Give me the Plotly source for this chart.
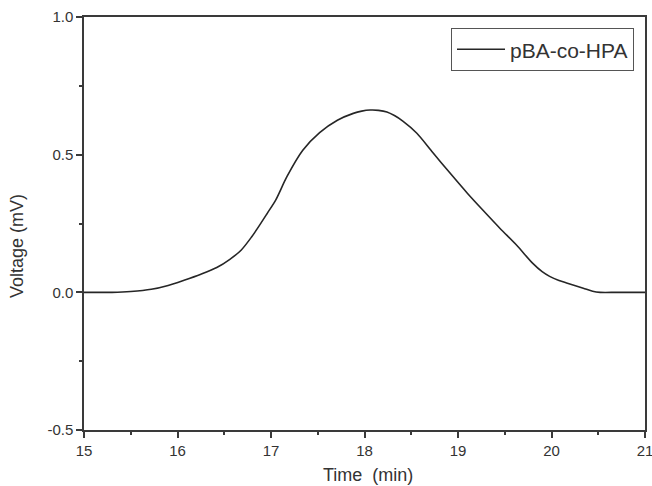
import plotly.graph_objects as go

time_min = [15.0, 15.3, 15.5, 15.72, 15.9, 16.07, 16.25, 16.42, 16.56, 16.68, 16.79, 16.88, 16.96,
            17.05, 17.17, 17.34, 17.52, 17.71, 17.88, 17.97, 18.06, 18.15, 18.24, 18.32, 18.41,
            18.56, 18.73, 18.91, 19.1, 19.27, 19.45, 19.63, 19.8, 19.9, 19.98, 20.08, 20.17,
            20.34, 20.44, 20.52, 20.7, 21.0]
voltage_mv = [0.0, 0.0, 0.003, 0.011, 0.025, 0.044, 0.066, 0.09, 0.12, 0.153, 0.2, 0.245, 0.287,
              0.335, 0.42, 0.516, 0.58, 0.625, 0.65, 0.658, 0.662, 0.661, 0.655, 0.642, 0.622,
              0.578, 0.508, 0.435, 0.36, 0.297, 0.232, 0.17, 0.105, 0.075, 0.058, 0.043, 0.033,
              0.015, 0.004, 0.0, 0.0, 0.0]
series_name = "pBA-co-HPA"
x_ticks = [15, 16, 17, 18, 19, 20, 21]
y_ticks = [-0.5, 0.0, 0.5, 1.0]
x_title = "Time\u00a0 (min)"
y_title = "Voltage (mV)"

fig = go.Figure()
fig.add_trace(go.Scatter(x=time_min, y=voltage_mv, mode="lines", name=series_name,
                         line=dict(color="#262626", width=1.6, shape="spline", smoothing=0.8)))

axis_common = dict(showline=True, linecolor="#3a3a3a", linewidth=1.5, mirror=True,
                   showgrid=False, zeroline=False, ticks="outside", ticklen=6, tickwidth=1.5,
                   tickcolor="#3a3a3a", tickfont=dict(size=15, color="#333333"),
                   automargin=False, ticklabeloverflow="allow")

fig.update_xaxes(range=[15, 21], tickvals=x_ticks, ticktext=[str(v) for v in x_ticks],
                 minor=dict(ticks="outside", ticklen=3, tickwidth=1.5, tickcolor="#3a3a3a", dtick=0.5),
                 **axis_common)
fig.update_yaxes(range=[-0.5, 1.0], tickvals=y_ticks, ticktext=[f"{v:.1f}" for v in y_ticks],
                 minor=dict(ticks="outside", ticklen=3, tickwidth=1.5, tickcolor="#3a3a3a", dtick=0.25),
                 **axis_common)

fig.add_annotation(text=y_title, xref="paper", yref="paper", x=-0.119, y=0.446,
                   textangle=-90, showarrow=False, font=dict(size=18, color="#333333"),
                   xanchor="center", yanchor="middle")
fig.add_annotation(text=x_title, xref="paper", yref="paper", x=0.506, y=-0.109,
                   showarrow=False, font=dict(size=18, color="#333333"),
                   xanchor="center", yanchor="middle")

fig.update_layout(
    width=652, height=486,
    margin=dict(l=84, r=7, t=17, b=56),
    paper_bgcolor="white", plot_bgcolor="white",
    font=dict(family="Liberation Sans, Arial, sans-serif", color="#333333"),
    showlegend=True,
    legend=dict(x=0.9804, y=0.973, xanchor="right", yanchor="top",
                bordercolor="#555555", borderwidth=1, bgcolor="white",
                font=dict(size=21, color="#333333"), itemwidth=48,
                tracegroupgap=0),
)

fig.write_html("out.html", config={"displayModeBar": False},
               post_script="document.body.style.margin='0';document.body.style.overflow='hidden';")
